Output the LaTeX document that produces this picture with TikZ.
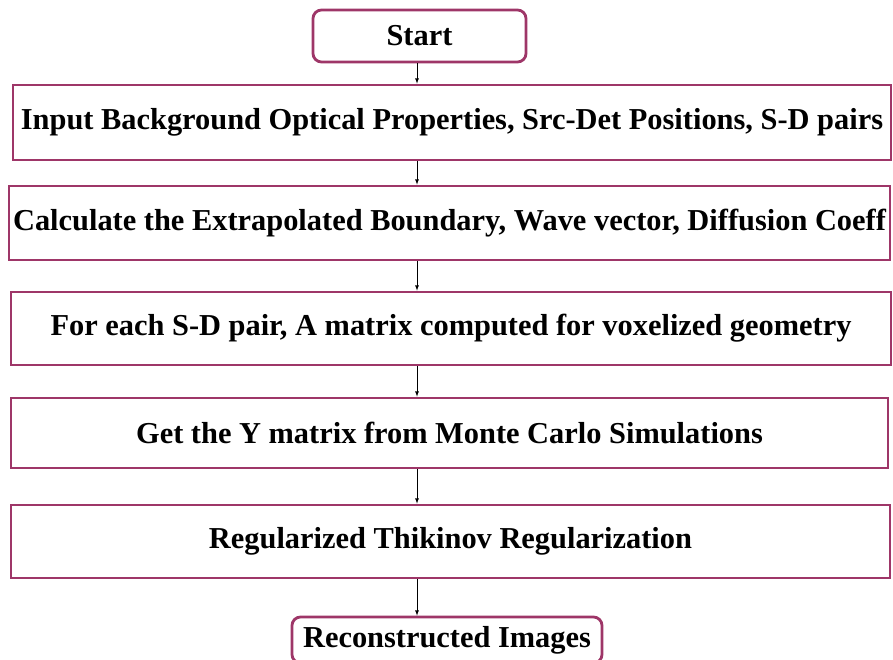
\documentclass[tikz,border=0pt]{standalone}
\usepackage{fontspec}
\setmainfont{Liberation Serif}
\definecolor{boxrim}{RGB}{158,54,104}
\begin{document}
\begin{tikzpicture}[x=1pt,y=-1pt,
                    stepbox/.style={
                        shape=rectangle,
                        draw=boxrim, line width=2.8pt,
                        inner sep=0pt,
                        font=\bfseries\fontsize{30.4}{35}\selectfont,
                        text=black, align=center},
                    endbox/.style={stepbox, rounded corners=3mm},
                    flow/.style={->, >=latex, black, line width=0.8pt}]
                        \useasboundingbox (0,0) rectangle (893,660);
                        \coordinate (spine) at (417,0);
                        \node [endbox, minimum width=213pt, minimum height=52pt] (start) at (419.5,36) {Start};
                        \node [stepbox, minimum width=878pt, minimum height=75pt] (input) at (452,122.5) {Input Background Optical Properties, Src-Det Positions, S-D pairs};
                        \node [stepbox, minimum width=881pt, minimum height=74pt] (calc) at (449.5,223) {Calculate the Extrapolated Boundary, Wave vector, Diffusion Coeff};
                        \node [stepbox, minimum width=880pt, minimum height=73pt] (amat) at (451,328.5) {For each S-D pair, A matrix computed for voxelized geometry};
                        \node [stepbox, minimum width=877pt, minimum height=70pt] (ymat) at (449.5,433) {Get the Y matrix from Monte Carlo Simulations};
                        \node [stepbox, minimum width=879pt, minimum height=73pt] (reg) at (450.5,541.5) {Regularized Thikinov Regularization};
                        \node [endbox, minimum width=310pt, minimum height=46pt] (recon) at (447,640) {Reconstructed Images};
                        \draw [flow] (start.south -| spine) -- (input.north -| spine);
                        \draw [flow] (input.south -| spine) -- (calc.north -| spine);
                        \draw [flow] (calc.south -| spine) -- (amat.north -| spine);
                        \draw [flow] (amat.south -| spine) -- (ymat.north -| spine);
                        \draw [flow] (ymat.south -| spine) -- (reg.north -| spine);
                        \draw [flow] (reg.south -| spine) -- (recon.north -| spine);
                \end{tikzpicture}
\end{document}
